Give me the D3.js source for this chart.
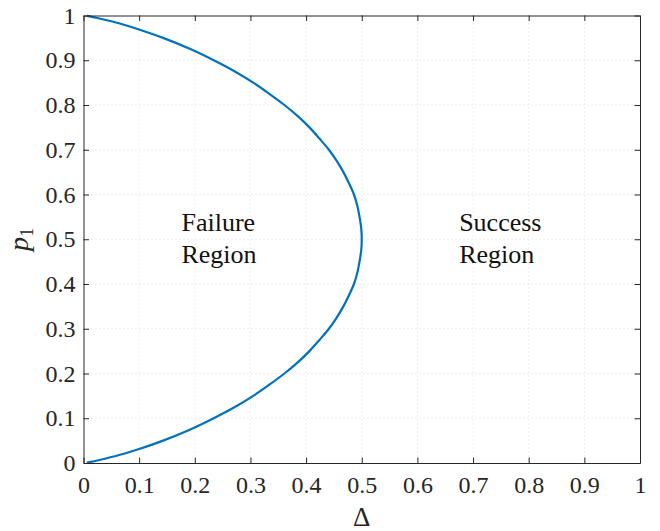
<!DOCTYPE html>
<html><head><meta charset="utf-8">
<script src="https://cdn.jsdelivr.net/npm/d3@7"></script>
<style>
body{margin:0;background:#fff;}
</style></head>
<body><svg id="c" width="660" height="531"></svg>
<script>
// values: p1 (vertical) and Delta (horizontal) along the boundary curve
const pValues = [0.001,0.003,0.005,0.01,0.02,0.03,0.05,0.075,0.1,0.125,0.15,0.175,0.2,0.225,0.25,0.275,0.3,0.325,0.35,0.375,0.4,0.425,0.45,0.475,0.5,
                 0.525,0.55,0.575,0.6,0.625,0.65,0.675,0.7,0.725,0.75,0.775,0.8,0.825,0.85,0.875,0.9,0.925,0.95,0.97,0.98,0.99,0.995,0.997,0.999];
const deltaValues = [0.006,0.015,0.023,0.040,0.071,0.097,0.143,0.192,0.234,0.272,0.305,0.334,0.361,0.385,0.406,0.424,0.441,0.455,0.467,0.477,0.486,0.492,0.496,0.499,0.500,
                     0.499,0.496,0.492,0.486,0.477,0.467,0.455,0.441,0.424,0.406,0.385,0.361,0.334,0.305,0.272,0.234,0.192,0.143,0.097,0.071,0.040,0.023,0.015,0.006];
const xTicks = [0,0.1,0.2,0.3,0.4,0.5,0.6,0.7,0.8,0.9,1];
const yTicks = [0,0.1,0.2,0.3,0.4,0.5,0.6,0.7,0.8,0.9,1];
const xTickLabels = ["0","0.1","0.2","0.3","0.4","0.5","0.6","0.7","0.8","0.9","1"];
const yTickLabels = ["0","0.1","0.2","0.3","0.4","0.5","0.6","0.7","0.8","0.9","1"];
const regionLabels = [{lines:["Failure","Region"], x:0.176, y:0.519},{lines:["Success","Region"], x:0.675, y:0.519}];

const FONT = '"Liberation Serif"';
const svg = d3.select("#c");
const L=83.5, R=640, T=15.5, B=463;
const x = d3.scaleLinear().domain([0,1]).range([L,R]);
const y = d3.scaleLinear().domain([0,1]).range([B,T]);
const axisColor="#262626";

// grid
const g = svg.append("g");
g.selectAll(".gx").data(xTicks.slice(1,-1)).join("line")
  .attr("x1",d=>x(d)).attr("x2",d=>x(d)).attr("y1",T).attr("y2",B)
  .attr("stroke","#dcdcdc").attr("stroke-width",1).attr("stroke-dasharray","1,3");
g.selectAll(".gy").data(yTicks.slice(1,-1)).join("line")
  .attr("y1",d=>y(d)).attr("y2",d=>y(d)).attr("x1",L).attr("x2",R)
  .attr("stroke","#dcdcdc").attr("stroke-width",1).attr("stroke-dasharray","1,3");

// curve
const data = pValues.map((p,i)=>({p, d:deltaValues[i]}));
svg.append("path").datum(data)
  .attr("d", d3.line().x(d=>x(d.d)).y(d=>y(d.p)).curve(d3.curveCatmullRom.alpha(0.5)))
  .attr("fill","none").attr("stroke","#0072BD").attr("stroke-width",2.2);

// axes (box with inward ticks)
const fs = 24;
const axB = d3.axisBottom(x).tickValues(xTicks).tickSizeInner(-5.5).tickSizeOuter(0).tickPadding(13)
  .tickFormat((d,i)=>xTickLabels[i]);
const axT = d3.axisTop(x).tickValues(xTicks).tickSizeInner(-5.5).tickSizeOuter(0).tickFormat("");
const axL = d3.axisLeft(y).tickValues(yTicks).tickSizeInner(-5.5).tickSizeOuter(0).tickPadding(8)
  .tickFormat((d,i)=>yTickLabels[i]);
const axR = d3.axisRight(y).tickValues(yTicks).tickSizeInner(-5.5).tickSizeOuter(0).tickFormat("");
function style(sel){
  sel.attr("font-family",null).attr("font-size",null);
  sel.select(".domain").attr("stroke",axisColor).attr("stroke-width",1);
  sel.selectAll(".tick line").attr("stroke",axisColor).attr("stroke-width",1);
  sel.selectAll(".tick text").style("font-size",fs+"px").attr("fill",axisColor)
     .style("font-family",FONT);
}
svg.append("g").attr("transform",`translate(0,${B})`).call(axB).call(style);
svg.append("g").attr("transform",`translate(0,${T})`).call(axT).call(style);
svg.append("g").attr("transform",`translate(${L},0)`).call(axL).call(style);
svg.append("g").attr("transform",`translate(${R},0)`).call(axR).call(style);

// axis labels
svg.append("text").attr("x",(L+R)/2).attr("y",526).attr("text-anchor","middle")
  .style("font-family",FONT).style("font-size","27px").attr("fill",axisColor).text("Δ");
const yl = svg.append("text").attr("transform",`translate(28,${(T+B)/2}) rotate(-90)`)
  .attr("text-anchor","middle").style("font-family",FONT).style("font-size","28px").attr("fill",axisColor);
yl.append("tspan").style("font-style","italic").text("p");
yl.append("tspan").style("font-size","19px").attr("dy",5).text("1");

// region labels
regionLabels.forEach(r=>{
  const t = svg.append("text").style("font-family",FONT).style("font-size","26px").attr("fill","#111");
  r.lines.forEach((s,i)=>t.append("tspan").attr("x",x(r.x)).attr("y",y(r.y)+i*32).text(s));
});
</script></body></html>
